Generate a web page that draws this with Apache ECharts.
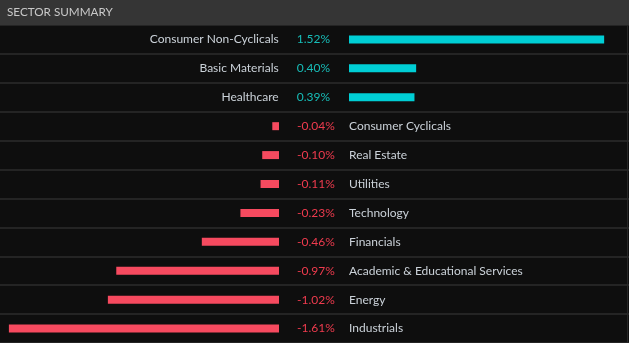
<!DOCTYPE html>
<html>
<head>
<meta charset="utf-8">
<script src="https://cdn.jsdelivr.net/npm/echarts@6/dist/echarts.min.js"></script>
<style>
html,body{margin:0;padding:0;background:#0e0e0e;}
#chart{width:629px;height:343px;}
</style>
</head>
<body>
<div id="chart"></div>
<script>
var titleText = 'SECTOR SUMMARY';
var categories = ['Consumer Non-Cyclicals','Basic Materials','Healthcare','Consumer Cyclicals','Real Estate','Utilities','Technology','Financials','Academic & Educational Services','Energy','Industrials'];
var values = [1.52, 0.40, 0.39, -0.04, -0.10, -0.11, -0.23, -0.46, -0.97, -1.02, -1.61];

var POS = '#00ced5', NEG = '#f64a5f';
var FONT = 'Lato, "Liberation Sans", Arial, sans-serif';
var FS = 12;

function fmt(v){ return v.toFixed(2) + '%'; }

var posData = values.map(function(v){ return v > 0 ? v : '-'; });
var negData = values.map(function(v){ return v < 0 ? v : '-'; });

var sectorChart = echarts.init(document.getElementById('chart'), null, {renderer:'canvas'});
var gridTop = 25;
sectorChart.setOption({
  backgroundColor: '#0e0e0e',
  animation: false,
  graphic: [
    {type:'rect', left:0, top:0, shape:{width:629, height:25}, style:{fill:'#353535'}, z:10},
    {type:'text', left:7, top:6, style:{text:titleText, fill:'#c9c9c9', font:'11.7px ' + FONT}, z:11},
    {type:'rect', left:627, top:25, shape:{width:1, height:318}, style:{fill:'#262626'}, z:1}
  ],
  grid: [
    {left:0, width:279, top:gridTop, bottom:0},
    {left:349, right:0, top:gridTop, bottom:0},
    {left:0, right:0, top:gridTop, bottom:0}
  ],
  xAxis: [
    {gridIndex:0, type:'value', min:-1.663, max:0, show:false},
    {gridIndex:1, type:'value', min:0, max:1.668, show:false},
    {gridIndex:2, type:'value', min:0, max:1, show:false}
  ],
  yAxis: [
    {gridIndex:0, type:'category', data:categories, inverse:true, show:false},
    {gridIndex:1, type:'category', data:categories, inverse:true, show:false},
    {gridIndex:2, type:'category', data:categories, inverse:true,
      axisLine:{show:false}, axisTick:{show:false}, axisLabel:{show:false},
      splitLine:{show:true, lineStyle:{color:'#2c2c2c', width:1.5}}}
  ],
  series: [
    {
      type:'bar', xAxisIndex:0, yAxisIndex:0, data:negData, barWidth:8,
      itemStyle:{color:NEG}, z:3,
      label:{
        show:true, position:'right', distance:0,
        formatter:function(p){ return '{v|' + fmt(values[p.dataIndex]) + '}{n|' + categories[p.dataIndex] + '}'; },
        rich:{
          v:{color:'#ee3b4e', fontSize:FS, fontFamily:FONT, width:52, align:'left', padding:[0,0,0,18]},
          n:{color:'#cbd2d9', fontSize:FS, fontFamily:FONT, align:'left'}
        }
      }
    },
    {
      type:'bar', xAxisIndex:1, yAxisIndex:1, data:posData, barWidth:8,
      itemStyle:{color:POS}, z:3,
      label:{
        show:true, position:'left', distance:0,
        formatter:function(p){ return '{n|' + categories[p.dataIndex] + '}{v|' + fmt(values[p.dataIndex]) + '}'; },
        rich:{
          n:{color:'#cbd2d9', fontSize:FS, fontFamily:FONT, align:'right', padding:[0,18,0,0]},
          v:{color:'#17bdb8', fontSize:FS, fontFamily:FONT, align:'left', padding:[0,19,0,0]}
        }
      }
    }
  ]
});
</script>
</body>
</html>
